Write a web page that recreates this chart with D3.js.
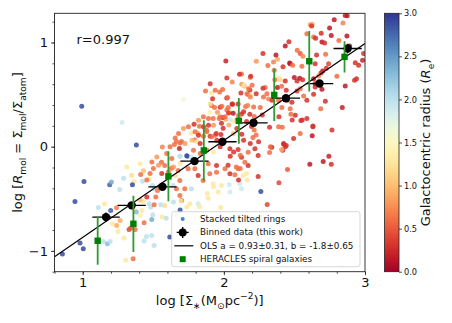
<!DOCTYPE html>
<html lang="en">
<head>
<meta charset="UTF-8">
<title>R_mol vs stellar surface density</title>
<script src="https://d3js.org/d3.v7.min.js"></script>
<style>
  body { margin: 0; background: #fff; }
  svg { display: block; font-family: "DejaVu Sans", sans-serif; }
</style>
</head>
<body>
<svg id="chart" width="452" height="323"></svg>
<script>
// stacked tilted rings: [log Sigma_*, log R_mol, radius in Re]
const rings = [
  [0.993,0.388,2.9],[1.279,0.231,1.9],[1.38,0.017,2.9],
  [1.407,-0.165,1.3],[1.411,-0.267,0.6],[1.47,-0.309,1.3],[1.364,-0.334,1.3],[1.29,-0.302,2.0],
  [1.352,-0.366,2.9],[1.423,-0.331,2.0],[1.009,-0.334,2.9],[1.191,-0.366,2.8],[1.203,-0.34,2.4],
  [1.262,-0.411,2.0],[0.945,-0.526,2.9],[1.111,-0.583,2.0],[1.198,-0.612,2.8],[1.239,-0.587,0.7],
  [1.21,-0.74,1.3],[1.25,-0.813,1.3],[1.265,-0.708,0.9],[1.328,-0.794,0.4],[1.34,-0.781,0.5],
  [1.371,-0.794,0.6],[1.435,-0.73,0.6],[1.407,-0.66,1.4],[1.419,-0.612,1.3],[1.364,-0.612,1.3],
  [1.38,-0.628,2.3],[1.454,-0.484,0.3],[1.43,-0.526,1.3],[1.47,-0.548,2.0],[1.489,-0.698,2.4],
  [1.496,-0.654,2.0],[1.482,-0.58,2.0],[1.506,-0.558,0.6],[1.518,-0.484,0.6],[1.506,-0.404,2.0],
  [1.494,-0.373,2.0],[1.53,-0.42,0.6],[1.435,-0.906,2.0],[1.452,-0.861,2.0],[1.489,-0.852,2.0],
  [1.506,-0.948,2.0],[1.305,-1.091,1.3],[1.357,-1.075,0.6],[1.146,-0.909,2.0],[1.175,-0.932,2.3],
  [1.194,-0.909,2.0],[0.981,-0.925,2.9],[1.004,-0.98,2.9],[0.856,-1.031,2.9],[1.293,-0.877,1.3],
  [1.241,-0.756,0.9],[1.154,-0.548,1.3],
  [1.688,-0.091,2.0],[1.742,-0.091,2.7],[1.77,-0.1,1.9],[1.558,-0.149,0.6],[1.581,-0.181,0.6],
  [1.629,-0.206,0.6],[1.676,-0.229,0.6],[1.657,-0.277,1.2],[1.688,-0.325,0.6],[1.64,-0.373,2.0],
  [1.664,-0.404,0.6],[1.723,-0.404,0.6],[1.77,-0.404,2.0],[1.688,-0.468,0.6],[1.7,-0.516,0.3],
  [1.759,-0.548,1.3],[1.818,-0.548,1.9],[1.581,-0.564,1.2],[1.553,-0.558,2.0],[1.563,-0.676,1.3],
  [1.592,-0.686,2.0],[1.617,-0.868,2.9],[1.924,-0.356,1.3],[1.983,-0.373,1.3],[2.038,-0.366,1.9],
  [2.043,-0.436,1.9],[1.96,-0.436,1.3],[1.889,-0.494,1.3],[2.113,-0.356,1.9],[2.125,-0.404,1.9],
  [2.243,-0.286,0.3],[2.262,-0.43,2.9],[2.137,-0.277,1.3],[2.078,-0.27,0.6],[2.043,-0.261,0.3],
  [2.101,-0.213,0.6],[2.172,-0.181,0.3],[2.149,-0.149,0.6],[2.125,-0.101,0.3],[2.172,-0.053,0.6],
  [2.22,-0.021,0.3],[2.243,-0.085,0.3],[2.043,-0.021,0.3],[2.101,-0.027,0.3],[1.9,-0.261,0.6],
  [1.948,-0.245,0.6],[2.008,-0.213,0.6],[1.948,-0.181,0.3],[1.889,-0.165,0.6],[1.853,-0.325,0.6],
  [1.818,-0.277,0.3],[1.794,-0.213,0.6],[1.747,-0.213,0.6],
  [1.69,-0.609,2.9],[1.643,-0.532,2.0],[1.697,-0.519,1.3],[1.662,-0.657,2.0],[1.737,-0.577,1.3],
  [1.827,-0.577,1.3],[1.856,-0.641,1.6],[1.884,-0.449,1.3],[1.977,-0.583,1.3],[1.927,-0.385,1.3],
  [2.425,0.023,0.15],[2.435,0.0,0.3],[2.417,-0.034,0.3],[2.164,-0.321,1.3],[2.104,-0.321,0.3],
  [2.161,-0.258,1.3],[2.088,-0.194,0.6],[2.116,-0.21,0.6],[2.03,-0.178,0.3],[2.045,-0.091,0.3],
  [2.339,-0.005,0.2],[2.324,-0.056,0.6],[2.409,-0.027,0.9],[2.442,0.011,0.3],[2.609,-0.168,0.15],
  [2.704,-0.143,0.15],[2.744,-0.091,0.2],[2.761,-0.168,0.3],[2.451,-0.219,0.5],[2.39,-0.347,0.4],
  [2.307,-0.555,0.4],
  [2.125,0.698,0.6],[2.146,0.583,0.85],[2.2,0.589,0.6],[2.184,0.544,0.3],[2.172,0.5,0.6],
  [2.187,0.493,1.2],[2.021,0.468,0.15],[2.059,0.41,0.15],[1.912,0.394,0.6],[1.974,0.378,0.3],
  [2.021,0.353,0.6],[2.042,0.327,0.9],[1.9,0.327,1.4],[1.924,0.27,0.6],[1.967,0.27,0.6],
  [2.066,0.321,0.15],[2.09,0.25,0.6],[2.125,0.314,0.3],[2.154,0.385,0.6],[2.101,0.41,0.3],
  [2.184,0.311,0.3],[2.215,0.289,0.6],[2.161,0.241,0.3],[2.196,0.193,0.3],[2.215,0.161,0.6],
  [2.014,0.263,0.9],[2.035,0.209,0.9],[1.983,0.225,0.3],[1.995,0.177,0.3],[1.877,0.161,0.6],
  [1.818,0.129,0.9],[1.771,0.129,1.3],[1.794,0.065,0.6],[1.7,0.049,0.6],[1.664,0.049,0.6],
  [1.979,0.116,0.3],
  [1.714,0.455,1.6],[1.985,0.388,0.6],[1.955,0.33,0.8],[2.033,0.324,0.3],[1.855,0.286,0.6],
  [1.891,0.27,0.6],[1.993,0.279,0.3],[1.82,0.254,0.8],[1.789,0.215,0.3],[1.827,0.196,0.6],
  [1.891,0.206,0.3],[1.927,0.206,0.8],[1.856,0.19,0.3],[1.714,0.174,0.8],[1.749,0.19,0.6],
  [1.796,0.142,0.6],[1.679,0.126,0.6],[1.82,0.11,0.3],[1.856,0.1,0.6],[1.903,0.1,0.3],
  [1.939,0.11,0.6],[2.068,0.126,1.0],[1.655,0.084,0.6],[1.773,0.062,1.0],[1.808,0.046,1.3],
  [1.832,0.03,0.3],[1.69,0.036,0.6],[1.725,0.03,0.8],[1.65,0.02,0.6],[1.619,0.0,0.6],
  [1.564,-0.003,0.7],[1.685,-0.018,0.2],[1.737,-0.088,2.9],[1.69,-0.091,2.0],[2.116,-0.082,0.6],
  [2.069,-0.05,0.3],[1.879,-0.034,0.6],[1.927,-0.05,1.3],[1.974,0.0,0.3],[1.785,-0.034,0.6],
  [1.832,-0.066,0.6],[1.595,-0.066,0.6],[1.631,-0.114,0.6],[1.525,-0.098,0.8],[1.49,-0.146,0.6],
  [1.537,-0.178,0.8],[1.501,-0.21,0.6],[1.477,-0.258,0.6],[1.56,-0.258,0.3],[1.607,-0.242,0.6],
  [1.643,-0.194,0.8],[1.69,-0.162,1.3],[1.43,-0.232,1.0],[1.454,-0.321,0.6],[1.347,-0.274,1.2],
  [1.312,-0.194,1.3],[1.407,-0.513,1.0],
  [2.014,0.822,0.2],[2.277,0.893,0.3],[2.23,0.819,0.8],[2.352,0.813,0.7],[2.38,0.838,0.9],
  [2.369,0.88,0.15],[2.435,0.966,0.15],[2.461,1.008,0.3],[2.47,0.797,0.15],[2.52,0.925,0.6],
  [2.541,0.893,0.5],[2.56,0.867,0.7],[2.612,1.171,0.8],[2.626,1.174,0.9],[2.588,1.084,0.6],
  [2.636,1.052,0.6],[2.69,1.088,0.3],[2.749,1.139,0.15],[2.782,1.219,0.15],[2.86,1.26,0.2],
  [2.874,1.257,0.15],[2.844,1.187,0.7],[2.815,1.02,0.6],[2.872,1.062,0.15],[2.891,0.966,0.15],
  [2.761,1.068,0.15],[2.695,1.004,0.15],[2.714,0.995,0.3],[2.721,0.886,0.6],[2.657,0.88,0.3],
  [2.647,0.797,0.3],[2.742,0.797,0.4],[2.931,0.806,0.3],[2.955,0.781,0.3],[2.983,0.829,0.2],
  [2.99,0.893,0.3],[2.926,0.637,0.3],[2.94,0.653,0.3],[2.86,0.583,0.15],[2.801,0.675,0.6],
  [2.726,0.752,0.3],[2.7,0.727,0.15],[2.688,0.707,0.3],[2.671,0.679,0.7],[2.647,0.573,0.3],
  [2.647,0.605,0.15],[2.636,0.653,0.15],[2.636,0.503,0.3],[2.695,0.551,0.15],[2.719,0.436,0.3],
  [2.766,0.161,0.3],[2.686,0.365,0.6],[2.553,0.771,0.6],[2.518,0.631,0.3],[2.499,0.663,0.15],
  [2.537,0.656,0.15],[2.558,0.643,0.3],[2.466,0.803,0.15],[2.487,0.781,0.6],[2.39,0.659,1.3],
  [2.4,0.643,1.2],[2.357,0.733,0.6],[2.361,0.643,0.6],[2.38,0.567,0.15],[2.409,0.58,0.6],
  [2.435,0.631,0.3],[2.451,0.445,0.6],[2.47,0.365,0.6],[2.482,0.426,0.3],[2.518,0.535,0.3],
  [2.541,0.557,0.6],[2.565,0.487,0.6],[2.588,0.445,0.3],[2.506,0.302,0.3],[2.546,0.25,0.3],
  [2.588,0.27,0.3],[2.631,0.19,0.3],[2.442,0.541,0.3],[2.442,0.471,0.6],[2.475,0.311,0.6],
  [2.388,0.19,0.6],[2.39,0.286,0.3],[2.411,0.375,0.6],[2.388,0.442,0.6],[2.293,0.567,0.6],
  [2.305,0.509,0.6],[2.317,0.458,0.7],[2.341,0.445,0.3],[2.187,0.663,0.7],[2.19,0.675,0.3],
  [2.127,0.599,0.8],[2.144,0.589,1.3],[2.175,0.557,0.6],[2.111,0.695,0.3],[2.059,0.621,0.7],
  [2.021,0.659,0.3],[1.991,0.548,0.6],[2.026,0.471,0.6],[2.061,0.407,0.3],[2.031,0.375,0.6],
  [2.121,0.516,0.3],[2.164,0.509,0.6],[2.187,0.477,0.7],[2.229,0.509,0.3],[2.277,0.56,0.3],
  [2.281,0.477,0.6],[2.258,0.375,0.6],[2.272,0.305,0.3],[2.211,0.381,0.6],[2.169,0.394,0.7],
  [2.14,0.334,0.3],[2.104,0.298,0.6],[2.069,0.244,1.3],[2.045,0.26,1.9],[2.009,0.286,0.6],
  [1.974,0.286,0.6],[2.092,0.174,0.3],[2.127,0.12,0.3],[2.14,0.062,0.3],[2.187,0.03,0.3],
  [2.206,0.088,0.6],[2.229,0.113,0.6],[2.246,0.046,0.3],[2.329,0.0,0.6],[2.423,0.03,0.3],
  [2.494,0.078,0.3],[2.541,0.126,0.6],[1.934,0.375,0.6],[1.92,0.461,0.3],[1.903,0.413,1.2],
  [1.914,0.516,1.3],[1.903,0.605,0.3],[1.87,0.535,0.6],[1.939,0.541,0.6],[1.97,0.525,0.6],
  [1.946,0.126,0.3],[1.95,0.062,0.3],[1.914,0.094,0.6],[1.879,0.142,0.6],
  [2.622,1.158,0.3],[2.65,1.04,0.3],[2.312,0.778,0.6],[2.419,0.768,0.3],[2.839,0.375,0.2],
  [2.631,0.199,0.3],[2.555,0.257,0.3],[2.414,0.187,0.6],[2.324,0.187,0.3],[2.626,0.104,0.15],
  [2.484,0.257,0.3]
];

// binned data (this work)
const binX = [1.165, 1.347, 1.565, 1.792, 1.99, 2.21, 2.44, 2.678, 2.877];
const binY = [-0.676, -0.563, -0.385, -0.139, 0.047, 0.229, 0.465, 0.606, 0.942];
const binXErr = [0.097, 0.1, 0.1, 0.1, 0.1, 0.1, 0.1, 0.097, 0.1];
const binYErr = [0.045, 0.03, 0.02, 0.02, 0.02, 0.02, 0.02, 0.03, 0.045];

// HERACLES spiral galaxies
const herX = [1.106, 1.359, 1.607, 1.858, 2.106, 2.357, 2.605, 2.855];
const herY = [-0.903, -0.74, -0.285, -0.036, 0.248, 0.497, 0.82, 0.862];
const herErr = [0.23, 0.27, 0.24, 0.29, 0.22, 0.25, 0.29, 0.15];

// OLS fit
const olsA = 0.93, olsB = -1.8;

const xTicks = [1, 2, 3];
const yTicks = [-1, 0, 1];
const cbTicks = [0, 0.5, 1, 1.5, 2, 2.5, 3];

const svg = d3.select("#chart");
const L = 54.5, R = 365, T = 13.3, B = 271.7;

const x = d3.scaleLinear().domain([0.8, 3.0]).range([L, R]);
const y = d3.scaleLinear().domain([-1.2, 1.28]).range([B, T]);
const color = v => d3.interpolateRdYlBu(v / 3);

svg.append("clipPath").attr("id", "clip")
  .append("rect").attr("x", L).attr("y", T).attr("width", R - L).attr("height", B - T);

const plot = svg.append("g").attr("clip-path", "url(#clip)");

// scatter
plot.selectAll("circle.ring")
  .data(rings)
  .enter().append("circle")
  .attr("class", "ring")
  .attr("cx", d => x(d[0]))
  .attr("cy", d => y(d[1]))
  .attr("r", 2.5)
  .attr("fill", d => color(d[2]))
  .attr("fill-opacity", 0.85);

// OLS line
plot.append("line")
  .attr("x1", x(0.8)).attr("y1", y(olsA * 0.8 + olsB))
  .attr("x2", x(3.0)).attr("y2", y(olsA * 3.0 + olsB))
  .attr("stroke", "#000").attr("stroke-width", 1.2);

// binned data
const bins = binX.map((v, i) => ({x: v, y: binY[i], ex: binXErr[i], ey: binYErr[i]}));
const bg = plot.append("g");
bins.forEach(d => {
  bg.append("line")
    .attr("x1", x(d.x - d.ex)).attr("x2", x(d.x + d.ex))
    .attr("y1", y(d.y)).attr("y2", y(d.y))
    .attr("stroke", "#000").attr("stroke-width", 1.3);
  bg.append("line")
    .attr("x1", x(d.x)).attr("x2", x(d.x))
    .attr("y1", y(d.y - d.ey)).attr("y2", y(d.y + d.ey))
    .attr("stroke", "#000").attr("stroke-width", 1.3);
  bg.append("circle")
    .attr("cx", x(d.x)).attr("cy", y(d.y)).attr("r", 4.2).attr("fill", "#000");
});

// HERACLES
const her = herX.map((v, i) => ({x: v, y: herY[i], e: herErr[i]}));
const hg = plot.append("g");
her.forEach(d => {
  hg.append("line")
    .attr("x1", x(d.x)).attr("x2", x(d.x))
    .attr("y1", y(d.y - d.e)).attr("y2", y(d.y + d.e))
    .attr("stroke", "#2f9a2f").attr("stroke-width", 1.8);
  hg.append("rect")
    .attr("x", x(d.x) - 3.2).attr("y", y(d.y) - 3.2)
    .attr("width", 6.4).attr("height", 6.4)
    .attr("fill", "#008000");
});

// frame
svg.append("rect")
  .attr("x", L).attr("y", T).attr("width", R - L).attr("height", B - T)
  .attr("fill", "none").attr("stroke", "#222").attr("stroke-width", 0.9);

// axes
const xAxis = svg.append("g").attr("transform", `translate(0,${B})`)
  .call(d3.axisBottom(x).tickValues(xTicks).tickFormat(d3.format("d")).tickSize(3.5).tickPadding(3));
const xMinor = svg.append("g").attr("transform", `translate(0,${B})`)
  .call(d3.axisBottom(x).tickValues(d3.range(0.8, 3.01, 0.2)).tickFormat("").tickSize(2));
const yAxis = svg.append("g").attr("transform", `translate(${L},0)`)
  .call(d3.axisLeft(y).tickValues(yTicks).tickFormat(d => d < 0 ? "\u2212" + Math.abs(d) : d).tickSize(3.5).tickPadding(3));
const yMinor = svg.append("g").attr("transform", `translate(${L},0)`)
  .call(d3.axisLeft(y).tickValues(d3.range(-1.2, 1.25, 0.2)).tickFormat("").tickSize(2));
[xAxis, xMinor, yAxis, yMinor].forEach(a => {
  a.select(".domain").remove();
  a.selectAll("line").attr("stroke", "#222").attr("stroke-width", 0.8);
  a.selectAll("text").attr("font-size", 13).attr("fill", "#111")
    .attr("font-family", "DejaVu Sans, sans-serif");
});

// rich text helper
function rich(sel, parts, size) {
  let shift = 0;
  parts.forEach(p => {
    const target = p.sub ? 0.3 * size : p.sup ? -0.45 * size : 0;
    const ts = sel.append("tspan").text(p.t)
      .attr("dy", target - shift)
      .attr("font-size", (p.sub || p.sup) ? size * 0.7 : size);
    if (p.it) ts.attr("font-style", "italic");
    shift = target;
  });
}

// axis labels
const xl = svg.append("text").attr("x", (L + R) / 2).attr("y", 305)
  .attr("text-anchor", "middle").attr("fill", "#111");
rich(xl, [{t: "log [\u03A3"}, {t: "\u2217", sub: true}, {t: "(M"}, {t: "\u2299", sub: true},
  {t: "pc"}, {t: "\u22122", sup: true}, {t: ")]"}], 13);

const yl = svg.append("text").attr("transform", `translate(22,${(T + B) / 2}) rotate(-90)`)
  .attr("text-anchor", "middle").attr("fill", "#111");
rich(yl, [{t: "log ["}, {t: "R", it: true}, {t: "mol", sub: true}, {t: " = \u03A3"},
  {t: "mol", sub: true}, {t: "/\u03A3"}, {t: "atom", sub: true}, {t: "]"}], 13);

svg.append("text").attr("x", 76.5).attr("y", 43.5)
  .attr("font-size", 13).attr("fill", "#111").text("r=0.997");

// legend
const lg = svg.append("g");
lg.append("rect").attr("x", 171.7).attr("y", 211.7).attr("width", 188.3).attr("height", 55)
  .attr("rx", 2.5).attr("fill", "#fff").attr("fill-opacity", 0.8)
  .attr("stroke", "#cccccc").attr("stroke-width", 0.8);
const legendItems = ["Stacked tilted rings", "Binned data (this work)",
  "OLS a = 0.93\u00B10.31, b = -1.8\u00B10.65", "HERACLES spiral galaxies"];
const lx = 182.7, ly = [219, 232.4, 245.8, 259.2];
lg.append("circle").attr("cx", lx).attr("cy", ly[0]).attr("r", 2).attr("fill", "#3f86c6");
lg.append("line").attr("x1", lx - 6).attr("x2", lx + 6).attr("y1", ly[1]).attr("y2", ly[1])
  .attr("stroke", "#000").attr("stroke-width", 1.3);
lg.append("line").attr("x1", lx).attr("x2", lx).attr("y1", ly[1] - 5.5).attr("y2", ly[1] + 5.5)
  .attr("stroke", "#000").attr("stroke-width", 1.3);
lg.append("circle").attr("cx", lx).attr("cy", ly[1]).attr("r", 4).attr("fill", "#000");
lg.append("line").attr("x1", 174.3).attr("x2", 193.3).attr("y1", ly[2]).attr("y2", ly[2])
  .attr("stroke", "#000").attr("stroke-width", 1.2);
lg.append("rect").attr("x", lx - 3).attr("y", ly[3] - 3).attr("width", 6).attr("height", 6)
  .attr("fill", "#008000");
lg.selectAll("text.leg").data(legendItems).enter().append("text")
  .attr("class", "leg")
  .attr("x", 200).attr("y", (d, i) => ly[i]).attr("dy", "0.35em")
  .attr("font-size", 8.8).attr("fill", "#111").text(d => d);

// colorbar
const cbL = 384.5, cbR = 399;
const cy = d3.scaleLinear().domain([0, 3]).range([B, T]);
const grad = svg.append("defs").append("linearGradient").attr("id", "cbgrad")
  .attr("x1", 0).attr("y1", 1).attr("x2", 0).attr("y2", 0);
d3.range(0, 1.001, 0.05).forEach(t => {
  grad.append("stop").attr("offset", t).attr("stop-color", d3.interpolateRdYlBu(t));
});
svg.append("rect").attr("x", cbL).attr("y", T).attr("width", cbR - cbL).attr("height", B - T)
  .attr("fill", "url(#cbgrad)").attr("stroke", "#222").attr("stroke-width", 0.8);
const cbAxis = svg.append("g").attr("transform", `translate(${cbR},0)`)
  .call(d3.axisRight(cy).tickValues(cbTicks).tickFormat(d3.format(".1f")).tickSize(3).tickPadding(2));
cbAxis.select(".domain").remove();
cbAxis.selectAll("line").attr("stroke", "#222").attr("stroke-width", 0.8);
cbAxis.selectAll("text").attr("font-size", 8.2).attr("fill", "#111")
  .attr("font-family", "DejaVu Sans, sans-serif");

const cl = svg.append("text").attr("transform", `translate(430,${(T + B) / 2}) rotate(-90)`)
  .attr("text-anchor", "middle").attr("fill", "#111");
rich(cl, [{t: "Galactocentric radius ("}, {t: "R", it: true}, {t: "e", sub: true}, {t: ")"}], 13);
</script>
</body>
</html>
